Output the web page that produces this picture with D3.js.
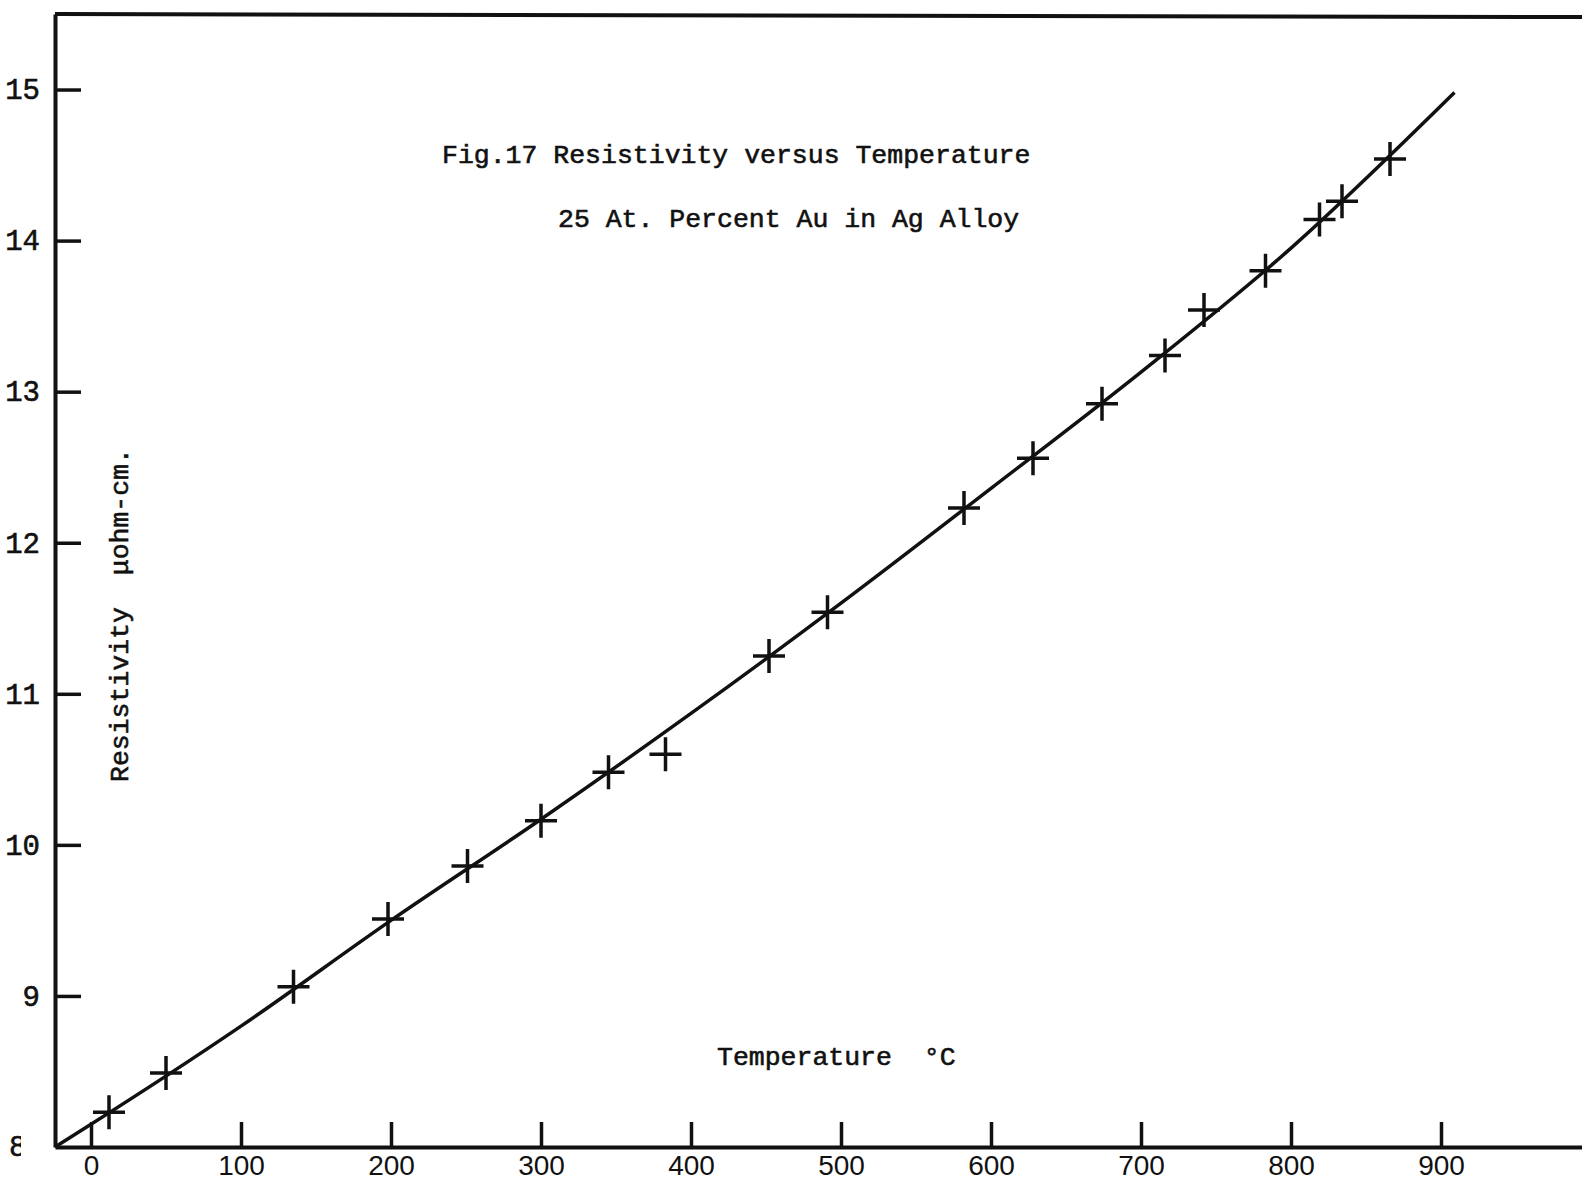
<!DOCTYPE html>
<html>
<head>
<meta charset="utf-8">
<script src="https://cdn.jsdelivr.net/npm/d3@7"></script>
<style>
    body { margin: 0; background: #fff; }
    svg { display: block; background: #fff; }
    .typed { font-family: "Liberation Mono", "DejaVu Sans Mono", monospace; fill: #111; stroke: #111; stroke-width: 0.6px; }
</style>
</head>
<body>
<svg width="1582" height="1183"></svg>
<script>
// measured points (temperature in deg C, resistivity in micro-ohm cm)
var temps = [12, 50, 135, 198, 251, 300, 345, 383, 452, 491, 582, 628, 674, 716, 742, 783, 819, 834, 866];
var resist = [8.23, 8.49, 9.06, 9.51, 9.86, 10.16, 10.48, 10.60, 11.25, 11.54, 12.23, 12.56, 12.92, 13.24, 13.54, 13.80, 14.14, 14.26, 14.54];

// drawn curve
var curveTemps = [-24, 0, 100, 200, 300, 400, 500, 600, 700, 800, 909];
var curveRes = [8.00, 8.15, 8.80, 9.50, 10.17, 10.87, 11.60, 12.36, 13.13, 13.95, 14.98];

var xTicks = [0, 100, 200, 300, 400, 500, 600, 700, 800, 900];
var yTicks = [9, 10, 11, 12, 13, 14, 15];

var svg = d3.select("svg"),
    width = +svg.attr("width"),
    height = +svg.attr("height");

var x = d3.scaleLinear().domain([-24, 994]).range([55, 1582]);
var y = d3.scaleLinear().domain([8, 15.5]).range([1147, 14]);

// frame top line
svg.append("line")
    .attr("x1", x(-24)).attr("x2", x(994))
    .attr("y1", y(15.5)).attr("y2", y(15.5) + 3)
    .attr("stroke", "#111")
    .attr("stroke-width", 4);

// left axis, ticks pointing inwards
var yAxis = svg.append("g")
    .attr("transform", "translate(" + x(-24) + ",0)")
    .call(d3.axisLeft(y)
        .tickValues(yTicks)
        .tickSizeInner(-26)
        .tickSizeOuter(0)
        .tickPadding(15)
        .tickFormat(d3.format("d")));
yAxis.select(".domain").attr("stroke", "#111").attr("stroke-width", 4);
yAxis.selectAll(".tick line").attr("stroke", "#111").attr("stroke-width", 3.5);
yAxis.selectAll(".tick text")
    .attr("class", "typed")
    .style("font-size", "29px");

// bottom axis
var xAxis = svg.append("g")
    .attr("transform", "translate(0," + y(8) + ")")
    .call(d3.axisBottom(x)
        .tickValues(xTicks)
        .tickSizeInner(-25)
        .tickSizeOuter(0)
        .tickPadding(8)
        .tickFormat(d3.format("d")));
xAxis.select(".domain").attr("stroke", "#111").attr("stroke-width", 4);
xAxis.selectAll(".tick line").attr("stroke", "#111").attr("stroke-width", 3.5);
xAxis.selectAll(".tick text")
    .attr("fill", "#111")
    .style("font-family", "'Liberation Sans', Arial, sans-serif")
    .style("font-size", "28px");

// the "8" at the corner is half cut off on the original
svg.append("clipPath").attr("id", "cut8")
    .append("rect").attr("x", 0).attr("y", 1120).attr("width", 21).attr("height", 50);
svg.append("text")
    .attr("class", "typed")
    .attr("clip-path", "url(#cut8)")
    .attr("x", 9)
    .attr("y", y(8))
    .attr("dy", "0.3em")
    .style("font-size", "29px")
    .text("8");

// curve
var line = d3.line()
    .x(function (d) { return x(d[0]); })
    .y(function (d) { return y(d[1]); })
    .curve(d3.curveMonotoneX);

svg.append("path")
    .datum(curveTemps.map(function (t, i) { return [t, curveRes[i]]; }))
    .attr("fill", "none")
    .attr("stroke", "#111")
    .attr("stroke-width", 3.5)
    .attr("d", line);

// plus markers
var pts = temps.map(function (t, i) { return [t, resist[i]]; });
svg.append("g")
    .selectAll("path")
    .data(pts)
    .enter().append("path")
    .attr("transform", function (d) {
        return "translate(" + x(d[0]) + "," + y(d[1]) + ")";
    })
    .attr("d", "M-16,0H16M0,-17V17")
    .attr("fill", "none")
    .attr("stroke", "#111")
    .attr("stroke-width", 3.5);

// titles
svg.append("text")
    .attr("class", "typed")
    .attr("x", 442).attr("y", 163)
    .style("font-size", "26.5px")
    .text("Fig.17 Resistivity versus Temperature");

svg.append("text")
    .attr("class", "typed")
    .attr("x", 558).attr("y", 227)
    .style("font-size", "26.5px")
    .text("25 At. Percent Au in Ag Alloy");

svg.append("text")
    .attr("class", "typed")
    .attr("x", 717).attr("y", 1065)
    .attr("xml:space", "preserve")
    .style("white-space", "pre")
    .style("font-size", "26.5px")
    .text("Temperature  \u00b0C");

svg.append("text")
    .attr("class", "typed")
    .attr("transform", "translate(128,782) rotate(-90)")
    .style("white-space", "pre")
    .style("font-size", "26.5px")
    .text("Resistivity  \u03bcohm-cm.");
</script>
</body>
</html>
